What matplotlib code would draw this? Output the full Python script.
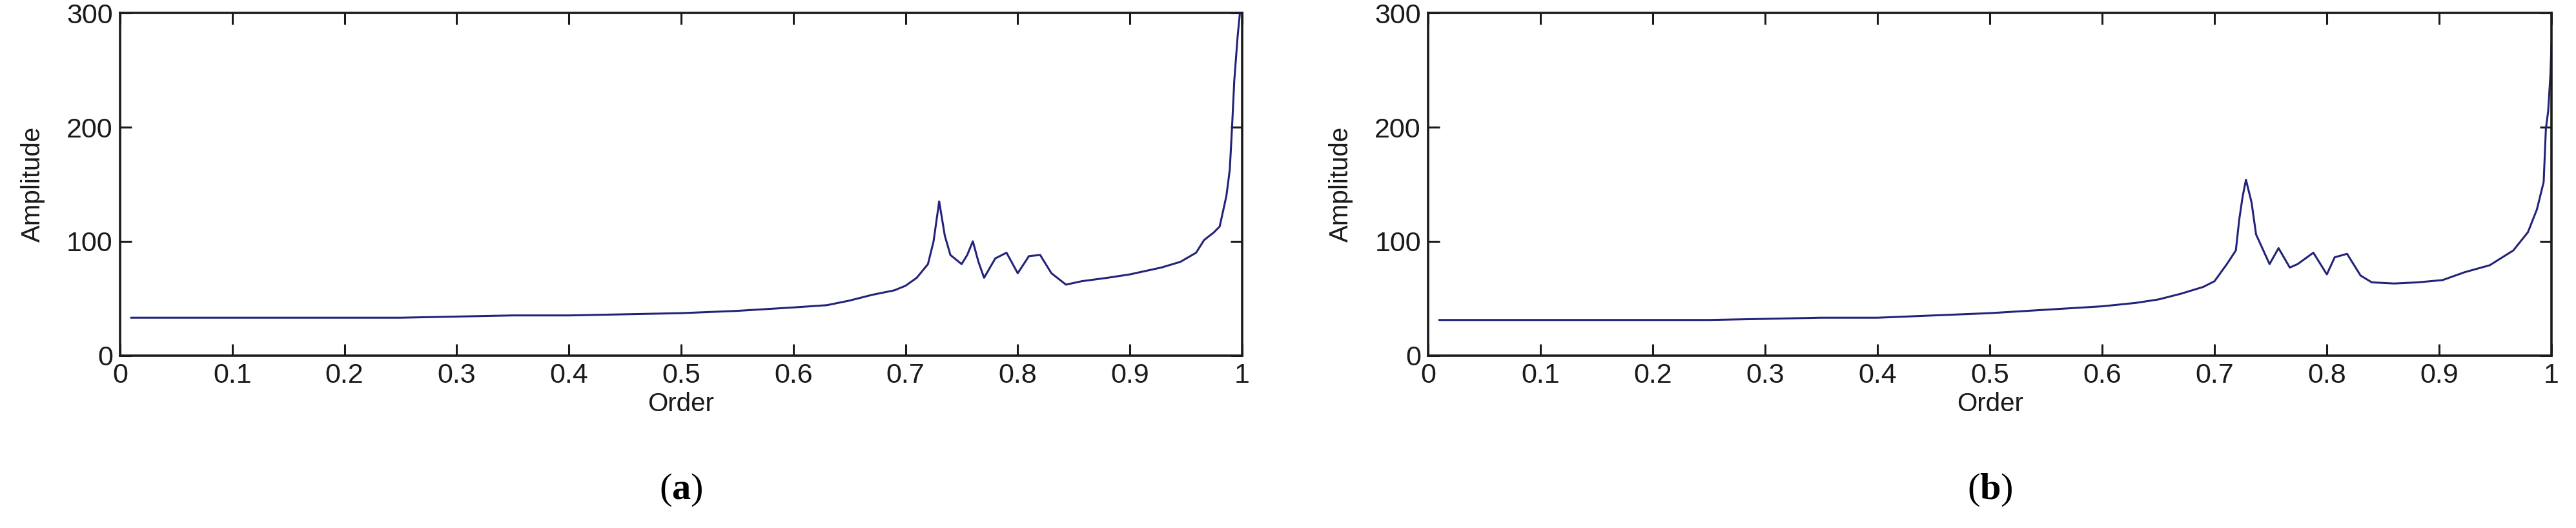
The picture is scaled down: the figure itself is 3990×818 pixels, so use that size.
import matplotlib
matplotlib.use('Agg')
import matplotlib.pyplot as plt

# panel (a)
order_a = [0.01, 0.05, 0.1, 0.15, 0.2, 0.25, 0.3, 0.35, 0.4, 0.45, 0.5, 0.55, 0.6, 0.63,
           0.65, 0.67, 0.69, 0.70, 0.71, 0.72, 0.725, 0.73, 0.735, 0.74, 0.75, 0.755,
           0.76, 0.765, 0.77, 0.78, 0.79, 0.80, 0.81, 0.82, 0.83, 0.843, 0.857, 0.88,
           0.90, 0.928, 0.945, 0.959, 0.966, 0.975, 0.980, 0.986, 0.989, 0.991, 0.993,
           0.996, 0.998, 1.0]
amp_a = [33, 33, 33, 33, 33, 33, 34, 35, 35, 36, 37, 39, 42, 44,
         48, 53, 57, 61, 68, 80, 100, 135, 105, 88, 80, 88,
         100, 82, 68, 85, 90, 72, 87, 88, 72, 62, 65, 68,
         71, 77, 82, 90, 101, 108, 113, 140, 163, 200, 241,
         280, 300, 300]

# panel (b)
order_b = [0.01, 0.05, 0.1, 0.15, 0.2, 0.25, 0.3, 0.35, 0.4, 0.45, 0.5, 0.55, 0.6, 0.63,
           0.65, 0.67, 0.69, 0.70, 0.711, 0.719, 0.722, 0.725, 0.728, 0.733, 0.737,
           0.749, 0.757, 0.767, 0.774, 0.788, 0.80, 0.807, 0.818, 0.83, 0.84, 0.86,
           0.881, 0.903, 0.923, 0.945, 0.966, 0.979, 0.987, 0.993, 0.995, 0.997,
           0.999, 1.0]
amp_b = [31, 31, 31, 31, 31, 31, 32, 33, 33, 35, 37, 40, 43, 46,
         49, 54, 60, 65, 80, 92, 119, 139, 154, 134, 106,
         80, 94, 77, 80, 90, 71, 86, 89, 70, 64, 63,
         64, 66, 73, 79, 92, 108, 128, 152, 199, 214,
         246, 273]

x_ticks = [0, 0.1, 0.2, 0.3, 0.4, 0.5, 0.6, 0.7, 0.8, 0.9, 1]
x_labels = ["0", "0.1", "0.2", "0.3", "0.4", "0.5", "0.6", "0.7", "0.8", "0.9", "1"]
y_ticks = [0, 100, 200, 300]
panel_tags = ["a", "b"]

plt.rcParams['font.family'] = ['Liberation Sans', 'DejaVu Sans']
plt.rcParams['mathtext.fontset'] = 'custom'
plt.rcParams['mathtext.bf'] = 'Liberation Serif:bold'

fig = plt.figure(figsize=(39.9, 8.18), dpi=100)
ax_a = fig.add_axes([0.0466, 0.327, 0.4356, 0.648])
ax_b = fig.add_axes([0.5544, 0.327, 0.4361, 0.648])

for ax, xs, ys, tag in [(ax_a, order_a, amp_a, panel_tags[0]),
                        (ax_b, order_b, amp_b, panel_tags[1])]:
    ax.plot(xs, ys, color='#22227a', lw=2.2)
    ax.set_xlim(0, 1)
    ax.set_ylim(0, 300)
    ax.set_xticks(x_ticks)
    ax.set_xticklabels(x_labels)
    ax.set_yticks(y_ticks)
    ax.tick_params(direction='in', top=True, right=True, length=13, width=2.2,
                   labelsize=31, pad=8, colors='#1a1a1a')
    for s in ax.spines.values():
        s.set_linewidth(2.6)
        s.set_color('#1a1a1a')
    ax.set_xlabel("Order", fontsize=29, labelpad=4, color='#1a1a1a')
    ax.set_ylabel("Amplitude", fontsize=29, labelpad=24, color='#1a1a1a')
    pos = ax.get_position()
    fig.text((pos.x0 + pos.x1) / 2, 0.072, '($\\mathbf{' + tag + '}$)',
             family='Liberation Serif', fontsize=42, ha='center', va='center')

fig.savefig("out.png", dpi=100)
